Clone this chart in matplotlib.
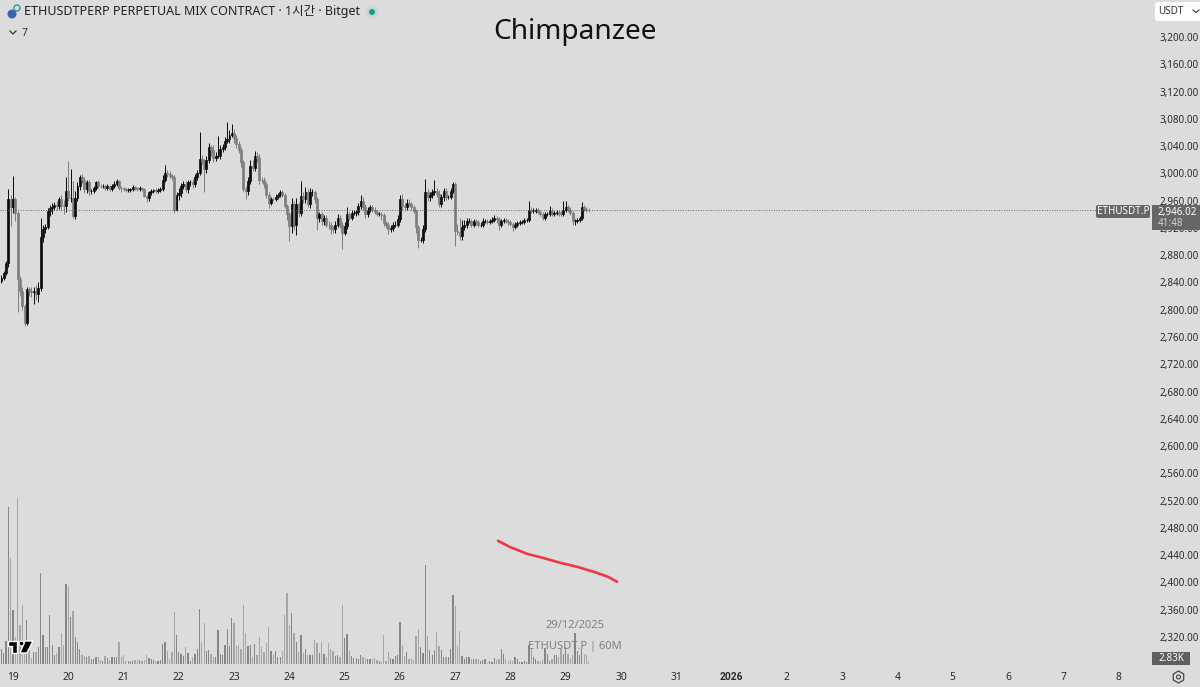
import numpy as np
import matplotlib
matplotlib.use('Agg')
import matplotlib.pyplot as plt
from matplotlib.patches import Circle, FancyBboxPatch, Polygon, Rectangle, RegularPolygon

plt.rcParams['font.family'] = ['Noto Sans', 'Noto Sans CJK KR', 'DejaVu Sans']

# Hourly closes, opens follow the previous close
closes = [
    2847, 2854, 2869, 2963, 2950, 2963, 2942, 2845, 2828, 2805,
    2781, 2830, 2828, 2826, 2828, 2823, 2832, 2906, 2918, 2922,
    2945, 2949, 2951, 2953, 2952, 2962, 2953, 2952, 2974, 2964,
    2964, 2937, 2964, 2981, 2994, 2990, 2977, 2987, 2974, 2974,
    2979, 2987, 2982, 2981, 2981, 2979, 2981, 2977, 2981, 2985,
    2989, 2979, 2978, 2977, 2976, 2976, 2977, 2980, 2978, 2977,
    2978, 2977, 2967, 2964, 2972, 2974, 2975, 2974, 2976, 2977,
    2991, 3001, 2999, 2996, 2994, 2947, 2969, 2971, 2981, 2984,
    2977, 2987, 2987, 2984, 2994, 3001, 3021, 3017, 3007, 3020,
    3038, 3034, 3023, 3026, 3026, 3036, 3038, 3048, 3050, 3057,
    3059, 3052, 3043, 3035, 3016, 2977, 2974, 2989, 3011, 3008,
    3026, 3023, 2991, 2990, 2984, 2969, 2957, 2963, 2962, 2966,
    2968, 2973, 2968, 2952, 2940, 2923, 2955, 2925, 2955, 2942,
    2967, 2962, 2972, 2955, 2972, 2972, 2962, 2935, 2940, 2930,
    2935, 2925, 2924, 2919, 2918, 2925, 2935, 2925, 2913, 2923,
    2940, 2935, 2942, 2942, 2943, 2952, 2960, 2951, 2940, 2947,
    2950, 2947, 2943, 2940, 2940, 2939, 2927, 2924, 2918, 2920,
    2925, 2925, 2933, 2962, 2952, 2951, 2957, 2955, 2950, 2945,
    2921, 2903, 2903, 2918, 2972, 2965, 2969, 2972, 2974, 2970,
    2955, 2965, 2974, 2965, 2965, 2974, 2984, 2916, 2914, 2908,
    2921, 2925, 2930, 2930, 2925, 2930, 2928, 2924, 2925, 2930,
    2930, 2929, 2930, 2931, 2935, 2933, 2925, 2930, 2931, 2930,
    2928, 2926, 2921, 2925, 2927, 2929, 2929, 2932, 2932, 2947,
    2945, 2945, 2946, 2943, 2941, 2935, 2940, 2941, 2945, 2940,
    2942, 2943, 2941, 2940, 2947, 2950, 2947, 2942, 2930, 2930,
    2932, 2935, 2950, 2948, 2947, 2946.02,
]
first_open = 2842

wick_up = [
    4, 3, 3, 14, 5, 33, 3, 3, 4, 5,
    4, 3, 4, 5, 5, 8, 8, 29, 6, 4,
    4, 4, 5, 5, 6, 4, 6, 8, 20, 44,
    42, 25, 10, 6, 4, 5, 4, 3, 3, 3,
    3, 2, 3, 2, 3, 2, 3, 2, 3, 4,
    3, 2, 2, 2, 2, 2, 2, 3, 2, 2,
    3, 2, 2, 2, 2, 3, 2, 3, 2, 3,
    6, 12, 4, 4, 3, 4, 3, 8, 5, 5,
    5, 4, 4, 5, 5, 4, 39, 6, 4, 6,
    6, 4, 8, 5, 29, 5, 5, 6, 25, 6,
    14, 6, 4, 4, 3, 3, 5, 6, 8, 8,
    7, 5, 5, 4, 4, 3, 4, 3, 3, 4,
    3, 3, 3, 3, 3, 3, 9, 4, 9, 3,
    22, 5, 8, 5, 7, 5, 4, 4, 4, 4,
    4, 4, 5, 4, 4, 5, 5, 4, 4, 5,
    10, 4, 4, 4, 3, 5, 8, 5, 4, 4,
    3, 3, 3, 3, 3, 3, 3, 3, 4, 4,
    4, 5, 6, 7, 8, 4, 5, 6, 3, 3,
    3, 3, 3, 6, 20, 5, 4, 5, 17, 4,
    5, 5, 5, 4, 4, 4, 3, 3, 10, 20,
    10, 6, 5, 4, 3, 3, 3, 3, 4, 5,
    3, 3, 3, 5, 4, 3, 3, 3, 3, 3,
    3, 3, 3, 3, 3, 3, 3, 3, 3, 13,
    3, 4, 3, 3, 3, 3, 4, 3, 7, 4,
    3, 4, 3, 4, 12, 9, 4, 3, 3, 3,
    3, 3, 8, 3, 3, 2,
]

wick_dn = [
    3, 3, 3, 6, 27, 8, 12, 49, 8, 5,
    5, 4, 8, 8, 18, 8, 12, 4, 6, 5,
    4, 8, 8, 5, 5, 4, 6, 12, 8, 5,
    6, 3, 4, 5, 5, 4, 6, 6, 5, 4,
    3, 4, 3, 3, 3, 3, 3, 3, 3, 3,
    3, 4, 6, 3, 3, 3, 3, 3, 3, 3,
    3, 3, 2, 6, 4, 3, 3, 3, 3, 3,
    3, 3, 4, 3, 3, 5, 2, 8, 6, 4,
    4, 6, 5, 5, 4, 3, 3, 3, 35, 6,
    5, 8, 6, 5, 4, 5, 5, 3, 3, 5,
    4, 8, 6, 5, 6, 5, 12, 5, 5, 5,
    5, 6, 6, 4, 5, 5, 8, 4, 3, 3,
    3, 3, 3, 3, 8, 22, 10, 8, 15, 6,
    5, 5, 5, 5, 6, 5, 5, 18, 6, 5,
    6, 4, 6, 8, 6, 5, 4, 5, 24, 4,
    5, 4, 3, 3, 4, 4, 4, 4, 5, 4,
    3, 3, 3, 3, 3, 8, 4, 4, 7, 4,
    5, 3, 4, 5, 6, 6, 4, 3, 3, 3,
    8, 13, 4, 5, 4, 6, 5, 5, 4, 5,
    5, 4, 5, 4, 3, 3, 3, 22, 5, 5,
    5, 4, 5, 3, 3, 3, 3, 3, 3, 3,
    3, 3, 3, 3, 3, 6, 8, 3, 3, 3,
    3, 3, 5, 3, 3, 3, 3, 3, 3, 3,
    3, 3, 3, 3, 3, 4, 3, 3, 3, 3,
    3, 3, 3, 3, 3, 3, 3, 3, 6, 5,
    3, 3, 3, 3, 3, 2,
]

# Volume in thousands
volumes = [
    23, 16, 34, 236, 159, 81, 41, 249, 59, 89,
    29, 66, 21, 9, 18, 18, 25, 136, 44, 26,
    26, 73, 29, 14, 16, 25, 46, 29, 120, 117,
    70, 80, 41, 33, 22, 14, 12, 10, 12, 7,
    7, 10, 10, 6, 5, 12, 9, 6, 10, 11,
    10, 33, 11, 13, 5, 5, 5, 4, 6, 6,
    6, 5, 6, 13, 9, 8, 6, 5, 5, 6,
    30, 33, 19, 7, 18, 78, 44, 18, 15, 12,
    25, 16, 5, 11, 15, 23, 83, 33, 61, 20,
    21, 15, 11, 11, 51, 15, 14, 28, 53, 27,
    69, 61, 27, 28, 23, 88, 46, 27, 28, 11,
    30, 14, 40, 26, 18, 31, 56, 19, 14, 20,
    10, 11, 20, 74, 106, 58, 76, 46, 33, 18,
    44, 17, 23, 14, 13, 14, 36, 31, 17,
    33, 15, 11, 31, 22, 20, 12, 14, 11, 89,
    39, 45, 19, 12, 9, 9, 8, 14, 11, 9,
    8, 7, 7, 9, 6, 5, 3, 43, 5, 18,
    9, 8, 12, 14, 63, 28, 12, 18, 7, 9,
    6, 42, 53, 26, 17, 149, 42, 21, 13, 21,
    48, 27, 21, 11, 10, 11, 23, 104, 87, 27,
    50, 12, 7, 11, 11, 7, 7, 7, 8, 5,
    6, 7, 1, 5, 3, 9, 6, 8, 23, 15, 7,
    5, 6, 5, 11, 7, 3, 3, 5, 3, 29,
    24, 10, 8, 5, 5, 6, 24, 15, 5, 7,
    14, 14, 10, 23, 15, 26, 15, 7, 14, 46,
    19, 13, 22, 15, 13, 2.83,
]

price_ticks = list(range(2320, 3201, 40))
day_labels = ['19', '20', '21', '22', '23', '24', '25', '26', '27', '28', '29', '30', '31',
              '2026', '2', '3', '4', '5', '6', '7', '8']

# Red hand drawn stroke (hour, price)
stroke_hours = [210.6, 215.8, 223.2, 230.1, 237.5, 244.9, 251.8, 257.9, 262.3]
stroke_prices = [2461, 2452, 2442, 2436, 2429, 2423, 2416, 2409, 2401]

last_price = 2946.02

BG = '#dcdcdc'
UP = '#0a0a0a'
DOWN = '#7d7d7d'
PX_PER_HOUR = 2.303
PX_PER_USD = 600 / 880
PX_PER_K = 2 / 3
PANE_BOTTOM = 664
PANE_RIGHT = 1150
W, H = 1200, 687

closes = np.array(closes, dtype=float)
opens = np.concatenate([[first_open], closes[:-1]])
highs = np.maximum(opens, closes) + np.array(wick_up)
lows = np.minimum(opens, closes) - np.array(wick_dn)
hours = np.arange(len(closes)) - 5
is_up = closes >= opens
colors = [UP if u else DOWN for u in is_up]
vol_colors = ['#868686' if u else '#a6a6a6' for u in is_up]

fig = plt.figure(figsize=(W / 100, H / 100), dpi=100, facecolor=BG)
rect = [0, 1 - PANE_BOTTOM / H, PANE_RIGHT / W, PANE_BOTTOM / H]

# ------------------------------------------------------- Volume
ax_vol = fig.add_axes(rect, facecolor='none')
ax_vol.bar(hours, volumes, width=0.55, color=vol_colors, linewidth=0)
ax_vol.set_ylim(0, PANE_BOTTOM / PX_PER_K)
ax_vol.axis('off')

# ------------------------------------------------------- Candles
ax = fig.add_axes(rect, facecolor='none')
ax.vlines(hours, lows, highs, colors=colors, linewidth=0.7)
ax.bar(hours, np.abs(closes - opens), bottom=np.minimum(opens, closes), width=0.85,
       color=colors, edgecolor=colors, linewidth=0.5)
ax.axhline(last_price, color='#666666', linewidth=0.7, linestyle=(0, (1, 1.6)))
ax.plot(stroke_hours, stroke_prices, color='#f23645', linewidth=1.9,
        solid_capstyle='round', solid_joinstyle='round')

xlim = (-13 / PX_PER_HOUR, (PANE_RIGHT - 13) / PX_PER_HOUR)
ax.set_xlim(xlim)
ax_vol.set_xlim(xlim)
ax.set_ylim(3200 - (PANE_BOTTOM - 37) / PX_PER_USD, 3200 + 37 / PX_PER_USD)

ax.yaxis.tick_right()
ax.set_yticks(price_ticks)
ax.set_yticklabels(['{:,.2f}'.format(p) for p in price_ticks], fontsize=7.1, color='#2a2a2a')
ax.set_xticks([24 * k for k in range(len(day_labels))])
ax.set_xticklabels(day_labels, fontsize=7.4, color='#2a2a2a')
year_label = ax.get_xticklabels()[day_labels.index('2026')]
year_label.set_family(['Roboto', 'DejaVu Sans'])
year_label.set_fontweight('bold')
ax.tick_params(length=0, axis='y', pad=6.5)
ax.tick_params(length=0, axis='x', pad=5.5)
for spine in ax.spines.values():
    spine.set_visible(False)

# ------------------------------------------------------- Overlay in pixels
ov = fig.add_axes([0, 0, 1, 1], facecolor='none')
ov.set_xlim(0, W)
ov.set_ylim(H, 0)
ov.axis('off')

ov.text(575, 32, 'Chimpanzee', fontsize=20.2, ha='center', va='center', color='#111111')
ov.text(24, 12, 'ETHUSDTPERP PERPETUAL MIX CONTRACT · 1시간 · Bitget', fontsize=9,
        va='center', color='#222222')
ov.add_patch(Circle((372, 12), 6.5, color='#c6d8d3', lw=0))
ov.add_patch(Circle((372, 12), 3, color='#1b9e85', lw=0))
ov.add_patch(Circle((12, 14), 4.5, color='#3f5fb0', lw=0))
ov.add_patch(Circle((17, 8), 3, fill=False, edgecolor='#2a9d8f', lw=1))
ov.plot([10, 13, 16], [31, 34, 31], color='#333333', lw=0.9)
ov.text(22, 33, '7', fontsize=7.4, va='center', color='#333333')

# Price labels
ov.add_patch(FancyBboxPatch((1096, 205), 54, 13, boxstyle='round,pad=0,rounding_size=2',
                            color='#666666', lw=0))
ov.text(1123, 211.5, 'ETHUSDT.P', fontsize=7.1, ha='center', va='center', color='white')
ov.add_patch(Rectangle((1152, 205), 48, 25, color='#666666', lw=0))
ov.text(1158, 212, '2,946.02', fontsize=7.1, va='center', color='white')
ov.text(1158, 223, '41:48', fontsize=7.1, va='center', color='#d0d0d0')

ov.add_patch(FancyBboxPatch((1155, 2), 50, 19, boxstyle='round,pad=0,rounding_size=3',
                            color='white', lw=0))
ov.text(1158, 11.5, 'USDT', fontsize=7.1, va='center', color='#333333')
ov.plot([1193, 1196, 1199], [10, 12.5, 10], color='#333333', lw=0.8)

ov.add_patch(Rectangle((1152, 652), 38, 13, color='#5f5f5f', lw=0))
ov.text(1171, 658.5, '2.83K', fontsize=7.1, ha='center', va='center', color='white')
ov.add_patch(RegularPolygon((1178.5, 677), 6, radius=6, fill=False, edgecolor='#444444', lw=0.9))
ov.add_patch(Circle((1178.5, 677), 2, fill=False, edgecolor='#444444', lw=0.8))

# Watermark
ov.text(575, 626, '29/12/2025', fontsize=8, ha='center', va='center', color='#808080')
ov.text(575, 646, 'ETHUSDT.P | 60M', fontsize=8, ha='center', va='center', color='#808080')

# Logo
logo_t = [(8, 641), (17, 641), (17, 653), (12, 653), (12, 646), (8, 646)]
logo_slash = [(25, 641), (33, 641), (27, 653), (20, 653)]
ov.add_patch(Polygon(logo_t, facecolor='black', edgecolor='white', lw=1))
ov.add_patch(Polygon(logo_slash, facecolor='black', edgecolor='white', lw=1))
ov.add_patch(Circle((21.5, 643.5), 2.4, facecolor='black', edgecolor='white', lw=0.8))

fig.savefig('out.png', dpi=100, facecolor=BG)
